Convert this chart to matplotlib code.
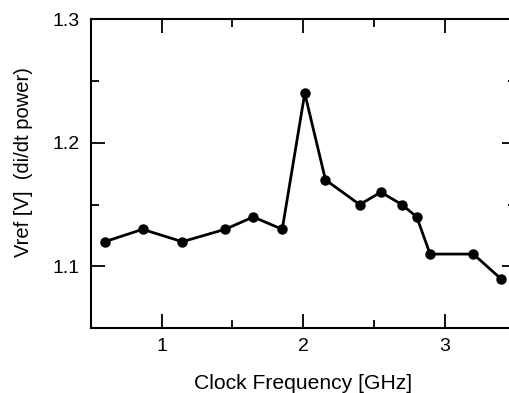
import matplotlib
matplotlib.use("Agg")
import matplotlib.pyplot as plt
from matplotlib.ticker import MultipleLocator

plt.rcParams['font.family'] = ['Liberation Sans', 'DejaVu Sans']

freq_ghz = [0.6, 0.866, 1.146, 1.448, 1.647, 1.851, 2.01, 2.156, 2.397, 2.547, 2.695, 2.80, 2.894, 3.199, 3.394]
vref = [1.12, 1.13, 1.12, 1.13, 1.14, 1.13, 1.24, 1.17, 1.15, 1.16, 1.15, 1.14, 1.11, 1.11, 1.09]

fig = plt.figure(figsize=(5.09, 3.93), dpi=100)
W, H = 509, 393
x0, x1, y0, y1 = 90.7, 516, 19, 328.3
ax = fig.add_axes([x0 / W, (H - y1) / H, (x1 - x0) / W, (y1 - y0) / H])

ax.plot(freq_ghz, vref, color='black', lw=2.0, marker='o', ms=6.5, clip_on=False)

ax.set_xlim(0.5, 3.5)
ax.set_ylim(1.05, 1.3)
ax.xaxis.set_major_locator(MultipleLocator(1))
ax.xaxis.set_minor_locator(MultipleLocator(0.5))
ax.yaxis.set_major_locator(MultipleLocator(0.1))
ax.yaxis.set_minor_locator(MultipleLocator(0.05))
ax.tick_params(which='both', direction='in', top=True, right=True, width=1.3, labelsize=14)
ax.tick_params(which='major', length=10, pad=8)
ax.tick_params(which='minor', length=5.5)
ax.tick_params(axis='x', which='major', pad=7)
for s in ax.spines.values():
    s.set_linewidth(1.5)

ax.set_xlabel('Clock Frequency [GHz]', fontsize=15.2, labelpad=14)
ax.set_ylabel('Vref [V]  (di/dt power)', fontsize=14.5, labelpad=14, y=0.536)

fig.savefig('out.png', dpi=100)
